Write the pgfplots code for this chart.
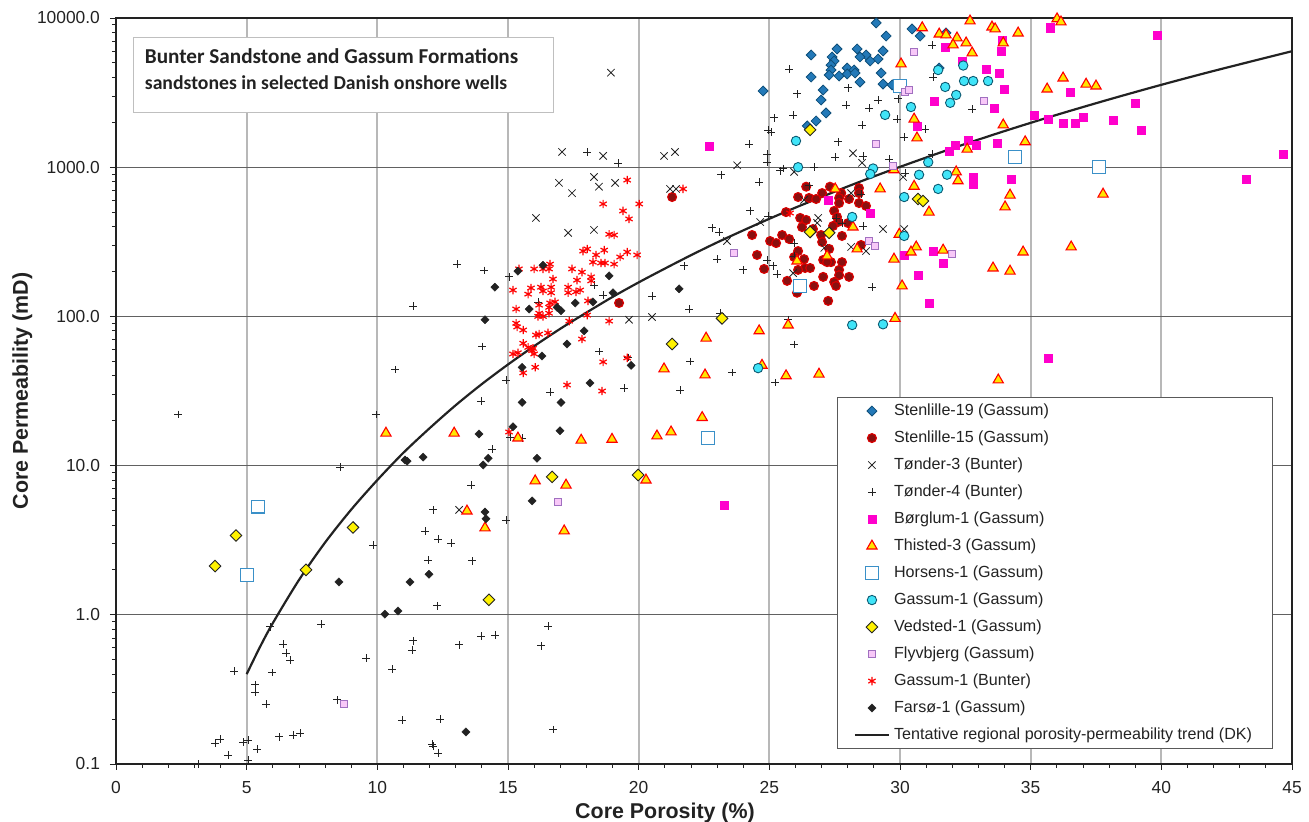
\documentclass[border=0pt]{standalone}
\usepackage{fontspec}
\setmainfont{Liberation Sans}
\newfontfamily\carlito{Carlito}
\usepackage{pgfplots}
\pgfplotsset{compat=1.18}
\definecolor{txt}{HTML}{222222}
\definecolor{sblue}{HTML}{2379B8}
\definecolor{sblueedge}{HTML}{0F4F7A}
\definecolor{dred}{HTML}{8A1010}
\definecolor{mag}{HTML}{FF00CC}
\definecolor{tyel}{HTML}{FFE600}
\definecolor{hblue}{HTML}{3A90C8}
\definecolor{cyanf}{HTML}{40E4F8}
\definecolor{cyane}{HTML}{0B5A72}
\definecolor{lavf}{HTML}{F8C8F8}
\definecolor{lave}{HTML}{A070C0}
\tikzset{
  s19/.style={only marks,mark=square*,mark size=1.75pt,mark options={rotate=45,fill=sblue,draw=sblueedge,line width=.4pt}},
  s15/.style={only marks,mark=*,mark size=2.2pt,mark options={fill=dred,draw=red!85!black,line width=.6pt}},
  t3/.style={only marks,mark=x,mark size=2.6pt,mark options={draw=txt,line width=.4pt}},
  t4/.style={only marks,mark=+,mark size=1.9pt,mark options={draw=txt,line width=.4pt}},
  bo/.style={only marks,mark=square*,mark size=2.1pt,mark options={fill=mag,draw=mag,line width=.1pt}},
  th/.style={only marks,mark=triangle*,mark size=2.95pt,mark options={fill=tyel,draw=red,line width=.55pt}},
  ho/.style={only marks,mark=square*,mark size=3.2pt,mark options={fill=white,draw=hblue,line width=.65pt}},
  g1/.style={only marks,mark=*,mark size=2.35pt,mark options={fill=cyanf,draw=cyane,line width=.45pt}},
  ve/.style={only marks,mark=square*,mark size=2.05pt,mark options={rotate=45,fill=yellow,draw=txt,line width=.45pt}},
  fl/.style={only marks,mark=square*,mark size=1.85pt,mark options={fill=lavf,draw=lave,line width=.55pt}},
  gb/.style={only marks,mark=asterisk,mark size=2.1pt,mark options={draw=red,line width=.6pt}},
  fa/.style={only marks,mark=square*,mark size=1.45pt,mark options={rotate=45,fill=txt,draw=txt,line width=.2pt}},
}
\begin{document}
\begin{tikzpicture}
\path[use as bounding box] (-58pt,-29pt) rectangle (596.5pt,382pt);
\begin{axis}[
    scale only axis,
    width=588pt,
    height=373pt,
    xmin=0, xmax=45,
    ymin=0.1, ymax=10000,
    ymode=log,
    clip=false,
    axis line style={draw=txt,line width=.9pt},
    xtick={0,5,...,45},
    xticklabels={0,5,10,15,20,25,30,35,40,45},
    minor x tick num=4,
    ytick={0.1,1,10,100,1000,10000},
    yticklabels={0.1,1.0,10.0,100.0,1000.0,10000.0},
    xtick pos=bottom, ytick pos=left,
    tick align=outside,
    major tick length=3pt,
    minor tick length=2pt,
    tick style={draw=txt,line width=.4pt},
    grid=major,
    x grid style={draw=black!28,line width=.9pt},
    y grid style={draw=black!62,line width=.55pt},
    tick label style={font=\fontsize{8.7}{10}\selectfont,text=txt},
    xticklabel style={yshift=-2pt},
    yticklabel style={xshift=-1.5pt},
    xlabel={Core Porosity (\%)},
    ylabel={Core Permeability (mD)},
    label style={font=\fontsize{10.7}{12}\selectfont\bfseries,text=txt},
    xlabel style={yshift=2pt,xshift=-19.5pt},
    ylabel style={yshift=-4.5pt},
    legend cell align=left,
    legend style={
      at={(axis description cs:0.6129,0.492)},anchor=north west,
      draw=black!65,line width=.6pt,fill=white,
      font=\fontsize{8.05}{9}\selectfont,text=txt,
      row sep=0pt,inner xsep=8.2pt,inner ysep=0pt,
      nodes={inner ysep=0pt,minimum height=13.5pt},
    },
]
% Stenlille-19
\addplot[s19] coordinates {
(29.09,9260)(29.47,7570)(30.46,8440)(30.77,7570)(31.76,7935)(27.59,6200)(26.6,5650)
(28.36,6200)(29.35,6010)(27.4,5480)(28.7,5650)(28.47,5480)(29.16,5310)(28.86,5150)
(27.48,5150)(27.36,4840)(27.36,4480)(27.98,4620)(28.24,4480)(27.29,4150)(27.67,4085)
(27.98,4215)(28.28,4280)(26.6,4020)(29.28,4280)(28.47,3720)(29.35,3610)(29.7,3560)
(27.06,3290)(24.76,3240)(26.98,2820)(27.17,2310)(26.79,2040)(26.45,1890)(31.5,4620)
};
\addlegendentry{Stenlille-19 (Gassum)}
% Stenlille-15
\addplot[s15] coordinates {
(26.41,740)(27.32,740)(27.02,671)(27.75,671)(28.43,725)(28.43,671)(26.10,631)(26.52,622)
(26.79,612)(27.67,622)(27.67,575)(28.05,612)(28.43,575)(28.70,550)(25.64,500)(27.48,509)
(26.18,457)(26.41,443)(27.59,464)(27.63,429)(28.01,422)(27.44,404)(26.25,397)(26.67,385)
(24.34,351)(25.49,351)(26.98,351)(27.78,346)(25.76,330)(25.03,320)(25.26,310)(27.02,315)
(28.51,301)(27.29,283)(26.10,274)(24.53,258)(25.95,250)(26.33,242)(27.06,239)(27.36,231)
(27.21,231)(27.78,231)(24.80,208)(26.37,211)(26.56,211)(26.10,205)(27.67,205)(27.67,189)
(28.05,184)(27.06,184)(25.68,173)(27.48,170)(27.55,160)(26.71,160)(26.06,144)(27.25,127)
(21.28,631)(19.25,123)
};
\addlegendentry{Stenlille-15 (Gassum)}
% Tønder-3
\addplot[t3] coordinates {
(23.77,1030)(28.2,1240)(28.55,1070)(25.95,930)(30.12,860)(28.13,670)(26.33,603)(26.87,457)
(26.83,423)(24.65,429)(30.16,385)(29.35,385)(23.38,320)(27.1,288)(28.13,292)(28.7,274)
(25.91,195)(17.07,1265)(18.64,1190)(20.97,1190)(21.39,1265)(16.95,785)(18.29,860)(18.48,740)
(19.1,785)(17.45,670)(21.2,715)(21.43,715)(16.07,457)(17.3,363)(18.29,380)(19.63,95)(20.51,99)
(18.94,4300)(13.13,5.05)
};
\addlegendentry{Tønder-3 (Bunter)}
% Tønder-4
\addplot[t4] coordinates {
(25.76,4550)(26.06,3100)(28.01,3400)(27.94,2610)(29.16,2820)(28.82,2490)(29.93,2870)(25.18,2140)
(25.91,2240)(24.95,1775)(25.07,1720)(24.22,1430)(27.63,1480)(28.55,1920)(29.89,2100)(30.16,1590)
(27.52,1170)(28.59,1190)(29.58,1135)(24.91,1225)(24.91,1085)(25.53,980)(25.41,945)(26.71,1000)
(23.15,890)(24.61,795)(30.2,915)(31.23,6600)(31.27,4020)(32.76,2450)(30.96,1800)(31.23,1225)
(26.52,750)(28.51,660)(24.26,510)(24.95,471)(27.55,457)(27.78,422)(28.59,404)(22.81,392)(23.08,368)
(25.95,310)(25.95,254)(23,242)(24.91,239)(24,205)(25.14,218)(25.3,192)(28.93,157)(25.72,95)
(23.12,105)(25.95,65)(21.74,218)(20.51,137)(21.93,112)(19.21,1065)(18.64,139)(18.03,1265)
(14.08,203)(15.04,184)(18.29,162)(16.15,125)(14.01,63)(18.48,58)(21.97,50)(23.57,42)(14.93,37.5)
(16.61,31)(19.44,33)(21.58,32)(25.22,36)(13.97,27)(19.59,53)(15.08,15.5)(15.54,15.3)(14.39,12.9)
(14.93,4.3)(13.59,7.4)(13.05,224)(11.37,117)(10.68,44)(9.95,22)(11.06,10.9)(8.57,9.8)(2.37,22)
(12.13,5.05)(11.83,3.65)(12.32,3.22)(12.82,3.03)(13.62,2.3)(11.94,2.33)(9.84,2.94)(12.28,1.15)
(7.85,.868)(5.89,.83)(6.39,.637)(6.51,.555)(6.66,.498)(11.37,.67)(11.33,.58)(13.97,.72)(14.5,.73)
(13.13,.63)(9.57,.514)(4.52,.42)(5.97,.41)(10.56,.433)(5.32,.34)(5.32,.304)(5.74,.252)(8.46,.269)
(10.95,.197)(12.4,.2)(6.24,.152)(6.77,.156)(7.04,.161)(3.98,.147)(3.79,.138)(4.86,.14)(5.05,.145)
(5.4,.126)(4.29,.115)(5.05,.106)(12.09,.136)(12.13,.132)(12.32,.118)(3.14,.1)(16.26,.62)(16.53,.84)
(16.72,.17)
};
\addlegendentry{Tønder-4 (Bunter)}
% Børglum-1
\addplot[bo] coordinates {
(22.69,1390)(31.73,6400)(33.91,7130)(33.87,6000)(32.38,5150)(33.3,4550)(33.79,4280)(33.98,3340)
(31.31,2780)(33.6,2490)(30.65,1890)(32.11,1400)(31.88,1280)(32.61,1520)(32.91,1400)(33.72,1450)
(32.8,860)(32.8,770)(34.25,835)(27.25,603)(28.86,493)(30.16,258)(31.27,274)(31.65,228)(30.69,189)
(31.11,123)(39.84,7700)(35.74,8600)(36.51,3190)(39,2700)(35.13,2240)(35.67,2100)(36.24,1980)
(36.7,1980)(37.01,2170)(38.15,2070)(39.23,1780)(44.66,1225)(43.25,835)(35.67,52.7)(23.27,5.44)
};
\addlegendentry{Børglum-1 (Gassum)}
% Thisted-3
\addplot[th] coordinates {
(30.85,8600)(32.68,9550)(33.52,8700)(33.64,8450)(34.52,7930)(31.5,7800)(31.76,7700)(32.18,7350)
(32.53,6800)(32.03,6600)(33.95,6800)(32.76,5830)(30.04,4920)(30.54,2100)(33.95,1920)(30.65,1570)
(32.57,1320)(32.15,930)(32.22,810)(30.54,745)(29.24,715)(34.21,650)(34.02,542)(27.52,715)(29.77,960)
(36.01,9870)(36.16,9400)(36.24,3960)(35.63,3340)(37.12,3600)(37.5,3500)(34.79,1480)(37.77,660)
(31.11,500)(34.71,270)(36.55,292)(34.21,201)(28.2,397)(29.97,355)(28.36,283)(27.21,254)(26.06,235)
(30.62,292)(30.42,270)(31.65,278)(29.77,242)(30.08,160)(33.56,211)(29.81,97)(25.72,87.5)(24.61,80)
(22.58,71.5)(20.97,44.5)(22.54,40.5)(24.72,47)(25.64,40)(26.9,41)(22.43,21)(21.24,16.8)(20.7,15.8)
(15.38,15.3)(17.8,14.8)(18.98,15)(10.33,16.5)(12.94,16.5)(16.04,7.9)(17.22,7.4)(20.28,8.0)
(14.12,3.82)(17.15,3.65)(13.43,4.96)(33.76,37.5)
};
\addlegendentry{Thisted-3 (Gassum)}
% Horsens-1
\addplot[ho] coordinates {
(30,3500)(34.4,1170)(37.62,1000)(26.18,160)(22.66,15.3)(5.43,5.3)(5.01,1.85)
};
\addlegendentry{Horsens-1 (Gassum)}
% Gassum-1 (Gassum)
\addplot[g1] coordinates {
(31.46,4480)(32.42,4800)(33.37,3780)(32.45,3780)(32.8,3780)(31.73,3450)(32.15,3050)(31.92,2700)
(30.42,2530)(29.43,2240)(26.02,1500)(26.1,1000)(31.08,1080)(28.97,980)(28.86,900)(30.73,890)
(31.8,890)(31.46,715)(30.16,631)(28.17,464)(30.16,346)(28.17,87.5)(29.35,88.5)(24.57,45)
};
\addlegendentry{Gassum-1 (Gassum)}
% Vedsted-1
\addplot[ve] coordinates {
(26.56,1780)(30.69,612)(30.88,594)(26.56,368)(27.29,363)(23.19,97)(21.28,65.3)(16.69,8.4)(19.98,8.65)
(4.59,3.4)(3.79,2.12)(9.07,3.85)(7.27,2.0)(14.27,1.26)
};
\addlegendentry{Vedsted-1 (Gassum)}
% Flyvbjerg
\addplot[fl] coordinates {
(30.54,5900)(30.2,3190)(30.35,3290)(33.22,2780)(29.09,1430)(29.74,1020)(23.65,266)(28.82,320)
(29.05,297)(31.99,261)(16.92,5.7)(8.73,.252)
};
\addlegendentry{Flyvbjerg (Gassum)}
% Gassum-1 (Bunter)
\addplot[gb] coordinates {
(19.56,820)(18.64,567)(20.02,567)(19.4,509)(19.63,450)(21.7,715)(18.87,355)(19.06,351)(18.03,283)
(17.87,274)(18.68,278)(18.37,258)(19.56,270)(19.94,258)(19.29,250)(18.25,231)(18.56,228)(18.71,228)
(19.06,224)(15.42,208)(16,208)(16.34,208)(16.61,224)(16.57,208)(17.45,208)(17.83,198)(16.72,178)
(18.18,184)(17.64,175)(18.18,173)(17.3,157)(15.19,150)(15.88,155)(15.77,141)(16.26,157)(16.34,148)
(16.65,157)(16.65,144)(17.3,144)(17.6,146)(17.76,150)(15.31,112)(18.06,127)(16.61,123)(16.8,125)
(16.19,119)(16.57,115)(16.57,105)(16.19,105)(16.34,100)(16.15,100)(18.03,102)(18.87,93)(17.34,93)
(15.31,90)(15.35,85)(15.58,81)(16.07,75)(16.19,76)(16.53,77.5)(17.83,70.5)(15.58,66)(15.77,62)
(15.96,61)(15.19,56)(15.38,57)(16,56)(15.92,59)(18.64,49.5)(19.56,52.7)(16.04,45.6)(15.58,41.8)
(17.26,34.7)(18.6,31.6)(15.04,16.8)(25.79,493)
};
\addlegendentry{Gassum-1 (Bunter)}
% Farsø-1
\addplot[fa] coordinates {
(16.34,220)(15.38,201)(14.5,157)(18.87,187)(21.55,153)(19.02,144)(18.25,125)(17.57,123)(15.81,112)
(16.88,115)(17.03,109)(14.12,95)(17.91,80)(17.26,65.3)(16.3,54.2)(15.54,45.6)(19.71,47)(18.14,35.8)
(17.03,26.5)(15.54,26.5)(16.99,17.1)(15.19,18.2)(13.89,16.3)(14.24,11.2)(14.05,10.1)(16.11,11.2)
(15.92,5.8)(14.12,4.88)(14.16,4.4)(8.53,1.66)(11.25,1.66)(11.98,1.87)(10.29,1.01)(10.79,1.06)
(13.39,.164)(11.14,10.7)(11.75,11.4)(11.06,10.9)
};
\addlegendentry{Farsø-1 (Gassum)}
% trend
\addplot[smooth,no markers,draw=txt,line width=1.1pt] coordinates {
(5,.4)(5.5,.604)(6,.879)(7,1.71)(8,3.05)(9,5.07)(10,8)(11,12.2)(12,17.8)(13,25.4)(14,35.2)(15,47.6)
(16,63.2)(17,82.6)(18,106)(19,135)(20,169)(21,209)(22,257)(23,313)(24,377)(25,451)(26,536)(27,632)
(28,743)(29,867)(30,1005)(32,1337)(34,1746)(36,2244)(38,2844)(40,3565)(42,4416)(45,5990)
};
\addlegendentry{Tentative regional porosity-permeability trend (DK)}
\end{axis}
\node[draw=black!25,line width=.6pt,fill=white,anchor=north west,minimum width=210pt,minimum height=37.5pt] at (8.25pt,363.5pt) {};
\node[anchor=west,inner xsep=6pt,inner ysep=0pt,align=left,text=txt,
      font=\carlito\bfseries\fontsize{10.6}{13}\selectfont] at (8.25pt,347.25pt)
  {Bunter Sandstone and Gassum Formations\\
   \fontsize{9.85}{13}\selectfont sandstones in selected Danish onshore wells};
\end{tikzpicture}
\end{document}
